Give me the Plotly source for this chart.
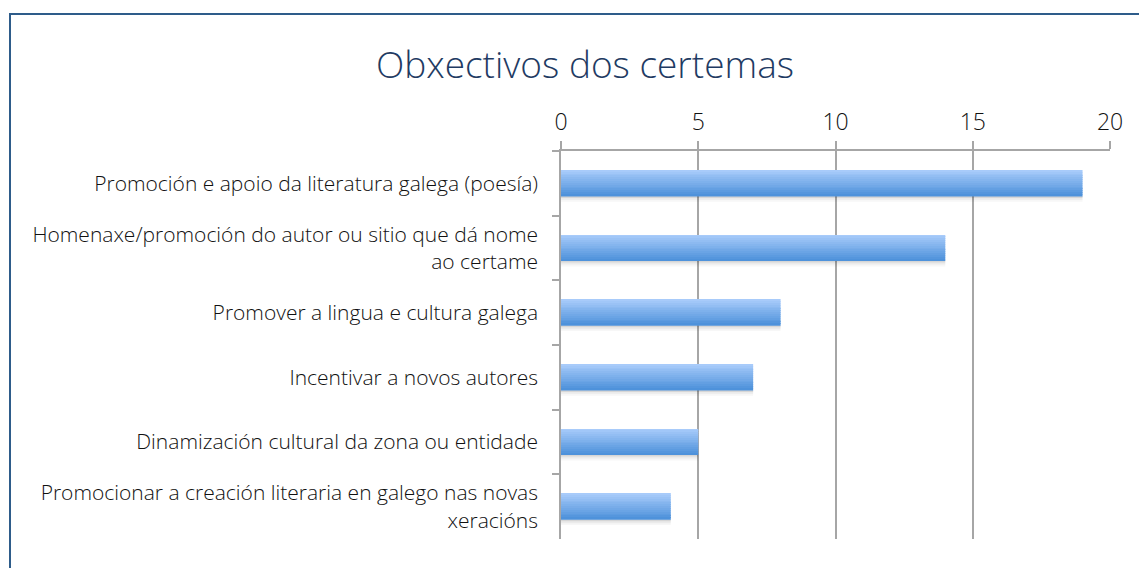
import plotly.graph_objects as go

categories = [
    "Promoción e apoio da literatura galega (poesía)",
    "Homenaxe/promoción do autor ou sitio que dá nome<br>ao certame",
    "Promover a lingua e cultura galega",
    "Incentivar a novos autores",
    "Dinamización cultural da zona ou entidade",
    "Promocionar a creación literaria en galego nas novas<br>xeracións",
]
values = [19, 14, 8, 7, 5, 4]
title_text = "Obxectivos dos certemas"
tick_vals = [0, 5, 10, 15, 20]

BAR_W = 0.40
N = 14
top_rgb = (168, 203, 250)
bot_rgb = (78, 146, 219)

# page body adds an 8px margin; build the figure 8px smaller
OFF = 8
W, H = 1147 - OFF, 568 - OFF
L, R, T, B = 561 - OFF, 37, 151 - OFF, 29
PW, PH = W - L - R, H - T - B

fig = go.Figure()

# soft shadow below the bars
for off, a in [(0.0, 0.16), (0.03, 0.08), (0.06, 0.03)]:
    fig.add_trace(go.Bar(
        y=categories, x=values, orientation="h",
        width=0.03, offset=BAR_W / 2 + off - 0.005,
        marker=dict(color=f"rgba(0,0,0,{a})", line=dict(width=0)),
        hoverinfo="skip", showlegend=False,
    ))

# gradient strips
for i in range(N):
    t = i / (N - 1)
    c = tuple(round(top_rgb[j] + (bot_rgb[j] - top_rgb[j]) * t) for j in range(3))
    fig.add_trace(go.Bar(
        y=categories, x=values, orientation="h",
        width=BAR_W / N + 0.002, offset=-BAR_W / 2 + i * BAR_W / N,
        marker=dict(color=f"rgb{c}", line=dict(width=0)),
        hoverinfo="skip", showlegend=False,
    ))

FONT = "Open Sans"
fig.update_layout(
    width=W, height=H,
    margin=dict(l=L, r=R, t=T, b=B),
    paper_bgcolor="white", plot_bgcolor="white",
    barmode="overlay",
    font=dict(family=FONT, color="#111111"),
    title=dict(text=title_text, x=(585 - OFF) / W, xanchor="center",
               y=1 - (65 - OFF) / H, yanchor="middle",
               font=dict(family=FONT, size=37, color="#1F3B63", weight=300)),
    xaxis=dict(
        side="top", range=[0, 20], tickvals=tick_vals,
        showgrid=True, gridcolor="#A6A6A6", gridwidth=1.5,
        showline=True, linecolor="#A6A6A6", linewidth=1.5,
        ticks="outside", ticklen=8, tickcolor="#A6A6A6", tickwidth=1.5,
        tickfont=dict(family=FONT, size=23, color="#111111", weight=300),
        ticklabelstandoff=2,
        zeroline=False, fixedrange=True,
    ),
    yaxis=dict(
        autorange="reversed", tickson="boundaries",
        showline=True, linecolor="#A6A6A6", linewidth=1.5,
        ticks="outside", ticklen=7, tickcolor="#A6A6A6", tickwidth=1.5,
        tickfont=dict(family=FONT, size=21, color="#111111", weight=300),
        ticklabelstandoff=17,
        showgrid=False, zeroline=False, fixedrange=True,
    ),
    shapes=[dict(
        type="rect", xref="paper", yref="paper",
        x0=(10 - 561) / PW, x1=1.2, y0=-0.2, y1=1 + (151 - 14) / PH,
        line=dict(color="#2E5C8A", width=2), fillcolor="rgba(0,0,0,0)",
        layer="below",
    )],
)

fig.write_html("out.html")
